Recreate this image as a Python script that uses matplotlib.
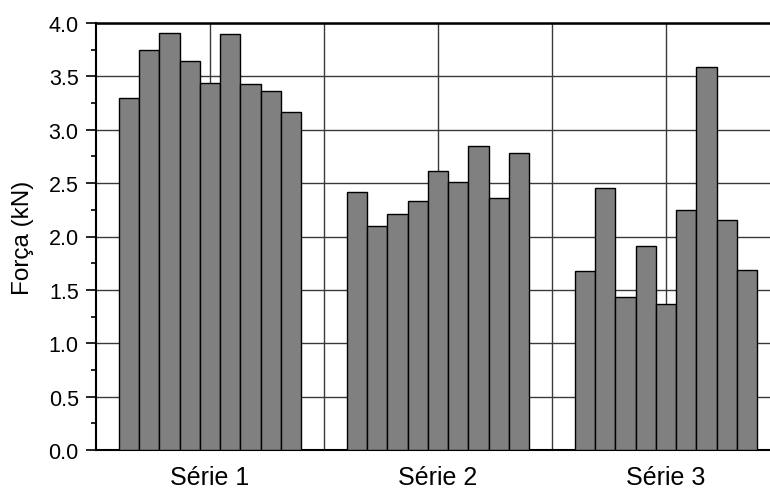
import numpy as np
import matplotlib.pyplot as plt
from matplotlib.ticker import MultipleLocator

plt.rcParams['font.family'] = ['Liberation Sans', 'DejaVu Sans']

# Dados
series = ["Série 1", "Série 2", "Série 3"]
serie1 = [3.30, 3.75, 3.91, 3.64, 3.44, 3.90, 3.43, 3.36, 3.17]
serie2 = [2.42, 2.10, 2.21, 2.33, 2.61, 2.51, 2.85, 2.36, 2.78]
serie3 = [1.68, 2.45, 1.43, 1.91, 1.37, 2.25, 3.59, 2.15, 1.69]
valores = [serie1, serie2, serie3]

fig = plt.figure(figsize=(7.7, 4.89), dpi=100)
ax = fig.add_axes([96 / 770, 38 / 489, 674 / 770, 427 / 489])

n = len(serie1)
largura = 0.8 / n
for g, vals in enumerate(valores):
    x = (g + 1) - 0.4 + largura * (np.arange(n) + 0.5)
    ax.bar(x, vals, width=largura, color="#808080", edgecolor="black", linewidth=1.0, zorder=3)

ax.set_xlim(0.5, 0.5 + 674 / 228)
ax.set_ylim(0, 4.0)
ax.set_xticks([1, 2, 3])
ax.set_xticklabels(series)
ax.set_xticks([1.5, 2.5], minor=True)
ax.yaxis.set_major_locator(MultipleLocator(0.5))
ax.yaxis.set_minor_locator(MultipleLocator(0.25))
ax.yaxis.set_major_formatter(plt.FormatStrFormatter("%.1f"))

ax.set_axisbelow(True)
ax.grid(True, which="both", axis="x", color="#3a3a3a", linewidth=1.0)
ax.grid(True, which="major", axis="y", color="#3a3a3a", linewidth=1.0)

ax.tick_params(axis="x", which="both", length=0, pad=10.5, labelsize=18)
ax.tick_params(axis="y", which="major", direction="out", length=7, width=1.2, labelsize=15.5, pad=5.5)
ax.tick_params(axis="y", which="minor", direction="out", length=3.5, width=1.2)

ax.spines["right"].set_visible(False)
for s in ["left", "bottom"]:
    ax.spines[s].set_linewidth(1.5)
ax.spines["top"].set_linewidth(1.8)

ax.set_ylabel("Força (kN)", fontsize=17.5, labelpad=10)

plt.savefig("out.png", dpi=100)
